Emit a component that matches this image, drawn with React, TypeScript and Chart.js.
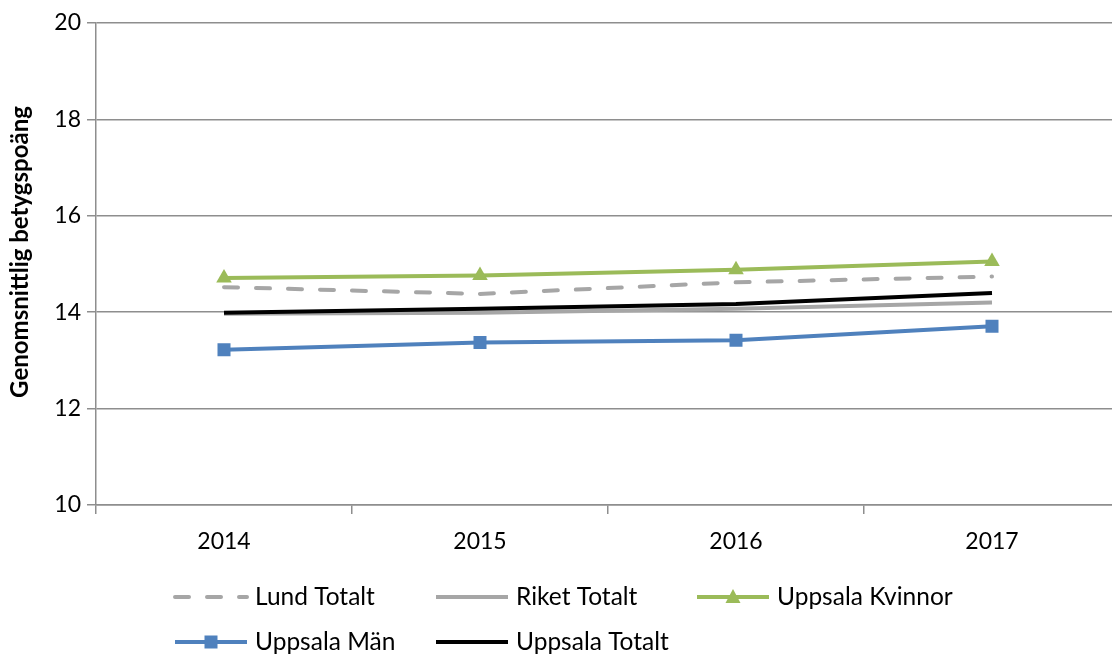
import React, { useEffect, useRef } from 'react';
import { Chart, registerables } from 'chart.js';

Chart.register(...registerables);

const years = ['2014', '2015', '2016', '2017'];
const lundTotalt = [14.52, 14.38, 14.62, 14.74];
const riketTotalt = [13.97, 13.99, 14.07, 14.2];
const uppsalaKvinnor = [14.71, 14.76, 14.88, 15.05];
const uppsalaMan = [13.22, 13.37, 13.42, 13.71];
const uppsalaTotalt = [13.99, 14.07, 14.17, 14.4];
const yMin = 10;
const yMax = 20;
const yStep = 2;
const yTitle = 'Genomsnittlig betygspoäng';

const FONT = 'Lato';
const GRID = '#8e8e8e';

const legendPlugin = {
  id: 'excelLegend',
  afterDraw(chart: any) {
    const ctx = chart.ctx;
    const ds = chart.data.datasets;
    // y-axis title
    ctx.save();
    ctx.translate(20, 252);
    ctx.rotate(-Math.PI / 2);
    ctx.fillStyle = '#000';
    ctx.font = `bold 24px ${FONT}`;
    ctx.textAlign = 'center';
    ctx.textBaseline = 'middle';
    ctx.fillText(yTitle, 0, 0);
    ctx.restore();

    ds.forEach((d: any, i: number) => {
      const col = i % 3;
      const row = Math.floor(i / 3);
      const x0 = 175 + col * 261;
      const y = 597 + row * 45;
      ctx.save();
      ctx.strokeStyle = d.borderColor;
      ctx.lineWidth = 4;
      ctx.setLineDash(d.borderDash || []);
      ctx.lineCap = d.borderCapStyle || 'butt';
      ctx.beginPath();
      ctx.moveTo(x0, y);
      ctx.lineTo(x0 + 72, y);
      ctx.stroke();
      ctx.setLineDash([]);
      const cx = x0 + 36;
      if (d.pointRadius > 0) {
        ctx.fillStyle = d.pointBackgroundColor;
        if (d.pointStyle === 'triangle') {
          ctx.beginPath();
          ctx.moveTo(cx, y - 8);
          ctx.lineTo(cx + 7.5, y + 6);
          ctx.lineTo(cx - 7.5, y + 6);
          ctx.closePath();
          ctx.fill();
        } else if (d.pointStyle === 'rect') {
          ctx.fillRect(cx - 6.5, y - 6.5, 13, 13);
        }
      }
      ctx.fillStyle = '#000';
      ctx.font = `24.5px ${FONT}`;
      ctx.textBaseline = 'middle';
      ctx.textAlign = 'left';
      ctx.fillText(d.label, x0 + 80, y);
      ctx.restore();
    });
  },
};

export default function App() {
  const ref = useRef<HTMLCanvasElement>(null);
  useEffect(() => {
    if (!ref.current) return;
    const chart = new Chart(ref.current, {
      type: 'line',
      data: {
        labels: years,
        datasets: [
          {
            label: 'Lund Totalt',
            data: lundTotalt,
            borderColor: '#a6a6a6',
            borderWidth: 4,
            borderDash: [14, 18],
            borderCapStyle: 'round',
            pointRadius: 0,
            order: 5,
          },
          {
            label: 'Riket Totalt',
            data: riketTotalt,
            borderColor: '#a6a6a6',
            borderWidth: 4,
            pointRadius: 0,
            order: 4,
          },
          {
            label: 'Uppsala Kvinnor',
            data: uppsalaKvinnor,
            borderColor: '#9bbb59',
            backgroundColor: '#9bbb59',
            borderWidth: 4,
            pointStyle: 'triangle',
            pointRadius: 9,
            pointBackgroundColor: '#9bbb59',
            pointBorderColor: '#9bbb59',
            pointBorderWidth: 0,
            order: 3,
          },
          {
            label: 'Uppsala Män',
            data: uppsalaMan,
            borderColor: '#4f81bd',
            backgroundColor: '#4f81bd',
            borderWidth: 4,
            pointStyle: 'rect',
            pointRadius: 9.2,
            pointBackgroundColor: '#4f81bd',
            pointBorderColor: '#4f81bd',
            pointBorderWidth: 0,
            order: 2,
          },
          {
            label: 'Uppsala Totalt',
            data: uppsalaTotalt,
            borderColor: '#000000',
            borderWidth: 4,
            pointRadius: 0,
            order: 1,
          },
        ] as any,
      },
      options: {
        responsive: false,
        animation: false,
        devicePixelRatio: 1,
        layout: { padding: { top: 23, right: 10, left: 0, bottom: 0 } },
        elements: { line: { tension: 0 } },
        plugins: {
          legend: { display: false },
          tooltip: { enabled: false },
        },
        scales: {
          x: {
            type: 'category',
            offset: true,
            grid: {
              display: true,
              drawOnChartArea: false,
              drawTicks: true,
              tickLength: 9,
              color: GRID,
              lineWidth: 1.5,
              offset: true,
            },
            border: { display: true, color: GRID, width: 1.5 },
            ticks: {
              color: '#000',
              font: { family: FONT, size: 23 },
              padding: 14,
              maxRotation: 0,
            },
            afterFit: (s: any) => {
              s.height = 150;
              s.paddingLeft = 0;
              s.paddingRight = 0;
            },
          },
          y: {
            min: yMin,
            max: yMax,
            ticks: {
              stepSize: yStep,
              color: '#000',
              font: { family: FONT, size: 23 },
              padding: 6,
            },
            grid: { color: GRID, lineWidth: 1.5, tickLength: 9 },
            border: { color: GRID, width: 1.5 },
            title: { display: false },
            afterFit: (s: any) => {
              s.width = 96;
              s.paddingTop = 0;
              s.paddingBottom = 0;
            },
          },
        },
      } as any,
      plugins: [legendPlugin],
    });
    return () => chart.destroy();
  }, []);
  return (
    <div
      style={{
        position: 'fixed',
        left: 0,
        top: 0,
        width: 1112,
        height: 655,
        overflow: 'hidden',
        background: '#fff',
      }}
    >
      <canvas ref={ref} width={1130} height={655} style={{ display: 'block' }} />
    </div>
  );
}
